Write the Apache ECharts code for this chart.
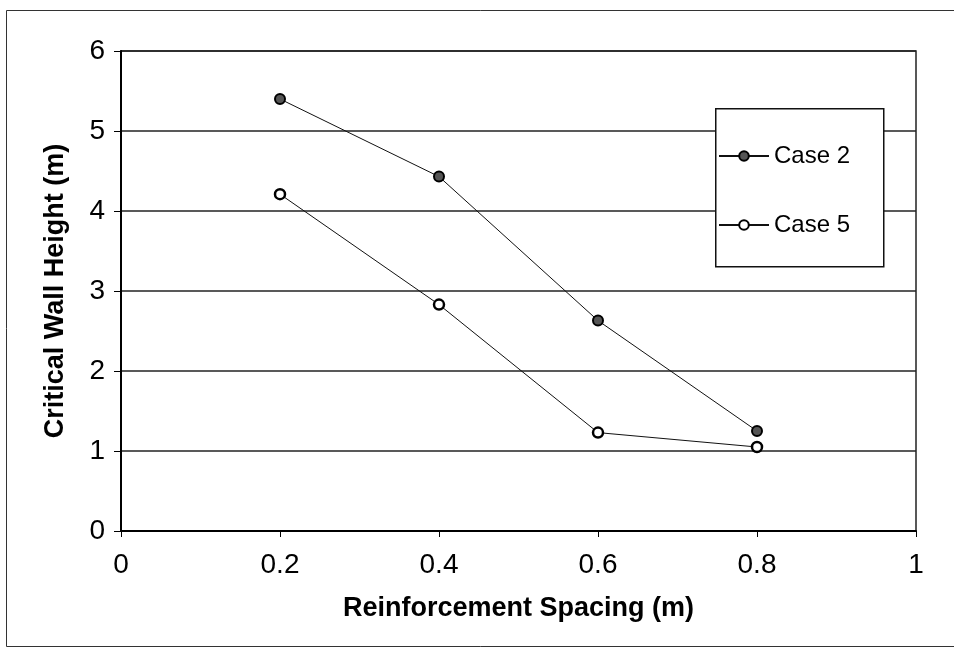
<!DOCTYPE html>
<html>
<head>
<meta charset="utf-8">
<script src="https://cdn.jsdelivr.net/npm/echarts@6/dist/echarts.min.js"></script>
<style>
html,body{margin:0;padding:0;background:#fff;}
#chart{width:954px;height:654px;}
</style>
</head>
<body>
<div id="chart"></div>
<script>
// Data
const spacing = [0.2, 0.4, 0.6, 0.8];
const case2 = [5.40, 4.43, 2.63, 1.25];
const case5 = [4.21, 2.83, 1.23, 1.05];
const seriesNames = ['Case 2', 'Case 5'];
const xTitle = 'Reinforcement Spacing (m)';
const yTitle = 'Critical Wall Height (m)';

const font = 'Liberation Sans, Arial, sans-serif';
const chart = echarts.init(document.getElementById('chart'), null, {renderer: 'canvas'});

const pairs = (ys) => spacing.map((x, i) => [x, ys[i]]);

chart.setOption({
  backgroundColor: '#fff',
  animation: false,
  graphic: [
    {type: 'rect', left: 6, top: 10, z: -10,
     shape: {width: 960, height: 636},
     style: {fill: '#fff', stroke: '#333', lineWidth: 1}},
    {type: 'rect', left: 715, top: 108, z: 50,
     shape: {width: 168, height: 158},
     style: {fill: '#fff', stroke: '#111', lineWidth: 1.5}}
  ],
  grid: {left: 121, top: 51, right: 38, bottom: 123, show: true,
         borderColor: '#222', borderWidth: 1.5, backgroundColor: 'transparent'},
  legend: {
    data: seriesNames, orient: 'vertical', left: 713, top: 139, z: 60,
    itemWidth: 50, itemHeight: 12, itemGap: 45,
    textStyle: {fontFamily: font, fontSize: 24, color: '#000'}
  },
  xAxis: {
    type: 'value', min: 0, max: 1, interval: 0.2,
    name: xTitle, nameLocation: 'middle', nameGap: 64,
    nameTextStyle: {fontFamily: font, fontSize: 27, fontWeight: 'bold', color: '#000'},
    axisLine: {show: true, lineStyle: {color: '#000', width: 2}},
    axisTick: {show: true, inside: false, length: 6, lineStyle: {color: '#000', width: 1}},
    axisLabel: {fontFamily: font, fontSize: 28, color: '#000', margin: 20},
    splitLine: {show: false}
  },
  yAxis: {
    type: 'value', min: 0, max: 6, interval: 1,
    name: yTitle, nameLocation: 'middle', nameGap: 52, nameRotate: 90,
    nameTextStyle: {fontFamily: font, fontSize: 27, fontWeight: 'bold', color: '#000'},
    axisLine: {show: true, lineStyle: {color: '#000', width: 2}},
    axisTick: {show: true, inside: false, length: 7, lineStyle: {color: '#000', width: 1}},
    axisLabel: {fontFamily: font, fontSize: 28, color: '#000', margin: 16},
    splitLine: {show: true, lineStyle: {color: '#222', width: 1.5}}
  },
  series: [
    {name: seriesNames[0], type: 'line', data: pairs(case2),
     symbol: 'circle', symbolSize: 10, z: 3,
     lineStyle: {color: '#111', width: 1},
     itemStyle: {color: '#555', borderColor: '#000', borderWidth: 2}},
    {name: seriesNames[1], type: 'line', data: pairs(case5),
     symbol: 'circle', symbolSize: 10, z: 3,
     lineStyle: {color: '#111', width: 1},
     itemStyle: {color: '#fff', borderColor: '#000', borderWidth: 2.5}}
  ]
});
</script>
</body>
</html>
